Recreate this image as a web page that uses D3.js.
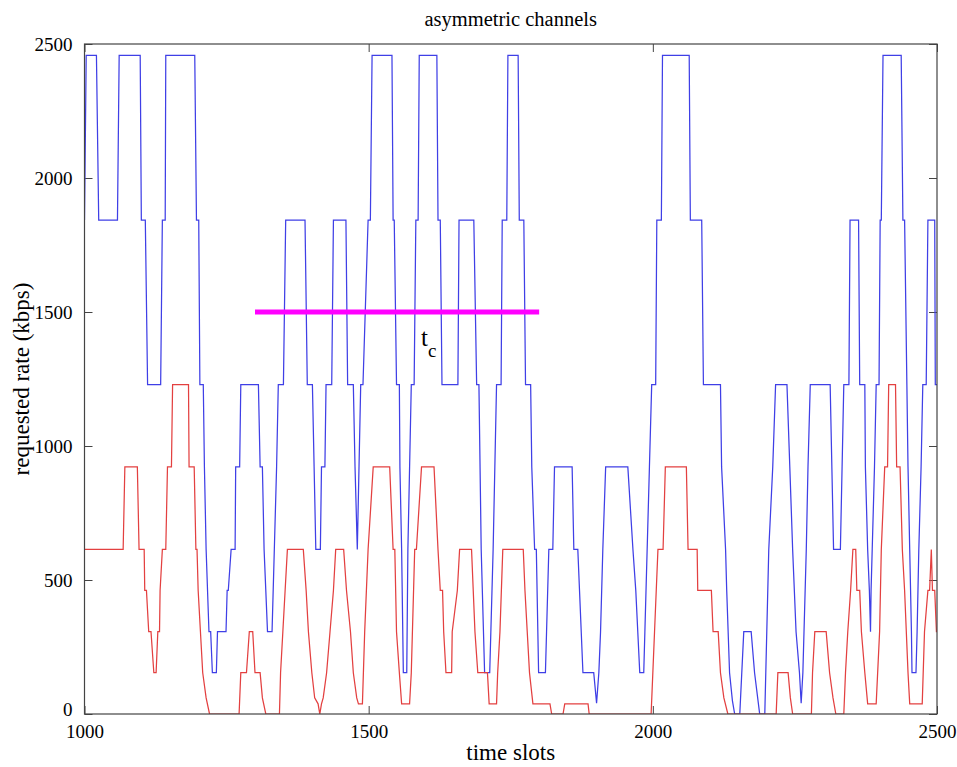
<!DOCTYPE html>
<html>
<head>
<meta charset="utf-8">
<script src="https://cdn.jsdelivr.net/npm/d3@7/dist/d3.min.js"></script>
<style>
  body { margin: 0; background: #fff; }
  svg { display: block; }
  text { font-family: "Liberation Serif", "Times New Roman", serif; fill: #000; }
</style>
</head>
<body>
<svg id="chart" width="957" height="767"></svg>
<script>
// ---------- data ----------
const title = "asymmetric channels";
const xLabel = "time slots";
const yLabel = "requested rate (kbps)";
const xTicks = [1000, 1500, 2000, 2500];
const yTicks = [0, 500, 1000, 1500, 2000, 2500];

const blueTimes = [1000,1003,1021,1025,1058,1061,1098,1100,1107,1111,1134,1137,1142,1143,1194,1197,1201,1203,1209,1211,1214,1219,1222,1225,1232,1234,1249,1251,1253,1258,1265,1266,1273,1275,1306,1309,1313,1316,1319,1322,1330,1334,1338,1341,1350,1354,1388,1392,1401,1404,1407,1415,1417,1423,1425,1435,1438,1460,1463,1473,1476,1480,1483,1486,1490,1499,1503,1506,1541,1543,1545,1549,1554,1555,1558,1561,1567,1569,1572,1575,1580,1583,1587,1589,1620,1622,1626,1629,1657,1659,1685,1690,1694,1698,1704,1713,1719,1722,1725,1733,1735,1743,1745,1763,1765,1773,1776,1785,1787,1792,1795,1799,1811,1813,1817,1824,1827,1858,1861,1868,1871,1877,1896,1901,1905,1908,1912,1917,1956,1965,1970,1977,1984,1986,1990,1994,1998,2005,2007,2015,2017,2064,2066,2086,2089,2119,2121,2128,2130,2135,2140,2144,2153,2160,2173,2179,2188,2197,2204,2211,2216,2236,2241,2246,2252,2258,2261,2264,2270,2273,2277,2312,2315,2318,2330,2333,2336,2345,2347,2362,2364,2373,2374,2378,2381,2383,2384,2386,2390,2393,2398,2400,2402,2405,2437,2440,2443,2447,2449,2452,2455,2456,2463,2465,2468,2472,2475,2481,2484,2496,2497,2500];
const blueRates = [1843,2458,2458,1843,1843,2458,2458,1843,1843,1229,1229,1843,1843,2458,2458,1843,1843,1229,1229,922,614,307,307,154,154,307,307,461,461,614,614,922,922,1229,1229,922,922,614,461,307,307,614,922,1229,1229,1843,1843,1229,1229,922,614,614,922,922,1229,1229,1843,1843,1229,1229,922,614,922,1229,1229,1843,1843,2458,2458,1843,1843,1229,1229,922,614,154,154,614,922,1229,1229,1843,1843,2458,2458,1843,1843,1229,1229,1843,1843,1229,1229,614,154,154,614,922,1229,1229,1843,1843,2458,2458,1843,1843,1229,1229,922,614,614,154,154,307,614,614,922,922,614,614,461,154,154,40,154,307,614,922,922,614,461,154,154,307,614,922,1229,1229,1843,1843,2458,2458,1843,1843,1229,1229,922,614,461,154,50,0,0,307,307,154,0,0,614,922,1229,1229,922,614,307,154,40,154,614,922,1229,1229,922,614,614,922,1229,1229,1843,1843,1229,1229,922,614,461,307,461,614,922,1229,1229,1843,1843,2458,2458,1843,1843,1229,922,614,307,154,154,307,614,922,1229,1229,1843,1843,1229,1229];

const redTimes = [1000,1068,1071,1093,1096,1105,1106,1109,1113,1117,1122,1126,1129,1132,1133,1137,1143,1146,1153,1155,1183,1184,1193,1196,1198,1200,1204,1208,1214,1220,1272,1275,1285,1290,1296,1300,1309,1313,1319,1343,1345,1349,1353,1357,1385,1390,1394,1400,1405,1411,1414,1417,1420,1426,1432,1438,1442,1456,1461,1468,1473,1479,1482,1489,1493,1499,1508,1537,1543,1546,1549,1554,1558,1572,1575,1581,1584,1593,1615,1622,1626,1630,1632,1636,1646,1647,1656,1660,1681,1684,1687,1692,1709,1712,1725,1727,1731,1736,1772,1775,1779,1783,1789,1819,1822,1842,1845,1886,1888,1997,2000,2003,2009,2018,2022,2059,2062,2078,2079,2103,2106,2115,2119,2125,2132,2217,2220,2238,2242,2246,2279,2281,2285,2305,2311,2317,2322,2336,2339,2343,2348,2352,2357,2359,2364,2367,2373,2378,2393,2399,2402,2408,2413,2415,2427,2429,2435,2439,2443,2446,2449,2452,2474,2478,2484,2487,2490,2492,2496,2499,2500];
const redRates = [614,614,922,922,614,614,461,461,307,307,154,154,307,307,461,614,614,922,922,1229,1229,922,922,614,614,461,307,154,60,0,0,154,154,307,307,154,154,60,0,0,154,307,461,614,614,461,307,154,60,38,0,38,60,154,307,461,614,614,461,307,154,60,38,38,307,614,922,922,614,614,307,154,38,38,154,614,614,922,922,614,461,461,307,154,154,307,461,614,614,461,307,154,154,38,38,154,307,614,614,461,307,154,38,38,0,0,38,38,0,0,154,307,614,614,922,922,614,614,461,461,307,307,154,60,0,0,154,154,60,0,0,154,307,307,154,60,0,0,154,307,461,614,614,461,461,307,154,38,38,307,614,922,922,1229,1229,922,922,614,461,307,154,38,38,307,461,461,614,461,461,307,307];

const thresholdStart = 1300;
const thresholdEnd = 1800;
const thresholdRate = 1500;

// ---------- layout ----------
const svg = d3.select("#chart");
const L = 84.5, R = 937, T = 44, B = 714;

const x = d3.scaleLinear().domain([1000, 2500]).range([L, R]);
const y = d3.scaleLinear().domain([0, 2500]).range([B, T]);

svg.append("defs").append("clipPath").attr("id", "clip")
  .append("rect").attr("x", L).attr("y", T).attr("width", R - L).attr("height", B - T);

const frameColor = "#444";

// axes with inward ticks
const tickLen = 8;
const gBottom = svg.append("g").attr("transform", `translate(0,${B})`)
  .call(d3.axisBottom(x).tickValues(xTicks).tickSizeInner(-tickLen).tickSizeOuter(0).tickPadding(11).tickFormat(d3.format("d")));
const gTop = svg.append("g").attr("transform", `translate(0,${T})`)
  .call(d3.axisTop(x).tickValues(xTicks).tickSizeInner(-tickLen).tickSizeOuter(0).tickFormat(""));
const gLeft = svg.append("g").attr("transform", `translate(${L},0)`)
  .call(d3.axisLeft(y).tickValues(yTicks).tickSizeInner(-tickLen).tickSizeOuter(0).tickPadding(12).tickFormat(d3.format("d")));
const gRight = svg.append("g").attr("transform", `translate(${R},0)`)
  .call(d3.axisRight(y).tickValues(yTicks).tickSizeInner(-tickLen).tickSizeOuter(0).tickFormat(""));

[gBottom, gTop, gLeft, gRight].forEach(g => {
  g.select(".domain").remove();
  g.selectAll(".tick line").attr("stroke", frameColor);
  g.selectAll(".tick text").style("font-family", '"Liberation Serif", "Times New Roman", serif')
    .style("font-size", "19px").attr("fill", "#000");
});
// lift the lowest y label slightly so it does not collide with the first x label
gLeft.selectAll(".tick text").filter(d => d === 0).attr("y", -5);

// data lines
const line = d3.line().x(d => x(d[0])).y(d => y(d[1]));
const bluePts = blueTimes.map((t, i) => [t, blueRates[i]]);
const redPts = redTimes.map((t, i) => [t, redRates[i]]);

const plot = svg.append("g").attr("clip-path", "url(#clip)");
plot.append("path").datum(bluePts).attr("d", line)
  .attr("fill", "none").attr("stroke", "#3f3fe6").attr("stroke-width", 1.25);
plot.append("path").datum(redPts).attr("d", line)
  .attr("fill", "none").attr("stroke", "#e34040").attr("stroke-width", 1.25);

// threshold
plot.append("line")
  .attr("x1", x(thresholdStart)).attr("x2", x(thresholdEnd))
  .attr("y1", y(thresholdRate)).attr("y2", y(thresholdRate))
  .attr("stroke", "#ff00ff").attr("stroke-width", 5);

// frame
svg.append("rect").attr("x", L).attr("y", T).attr("width", R - L).attr("height", B - T)
  .attr("fill", "none").attr("stroke", frameColor).attr("stroke-width", 1.2);

// t_c annotation
const tc = svg.append("text").attr("x", 421).attr("y", 346).style("font-size", "25px");
tc.append("tspan").text("t");
tc.append("tspan").attr("dy", 11).style("font-size", "19px").text("c");

// labels
svg.append("text").attr("x", (L + R) / 2).attr("y", 26).attr("text-anchor", "middle")
  .style("font-size", "20.5px").text(title);
svg.append("text").attr("x", (L + R) / 2).attr("y", 760).attr("text-anchor", "middle")
  .style("font-size", "23px").text(xLabel);
svg.append("text").attr("transform", `translate(29,${(T + B) / 2}) rotate(-90)`)
  .attr("text-anchor", "middle").style("font-size", "23px").text(yLabel);
</script>
</body>
</html>
